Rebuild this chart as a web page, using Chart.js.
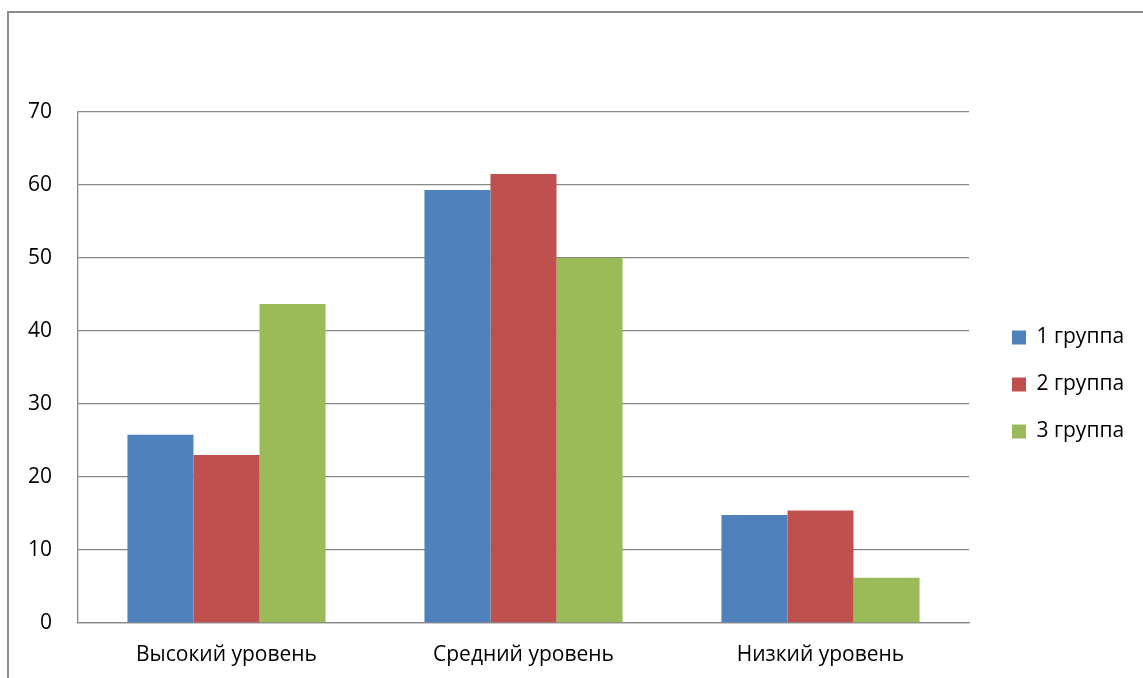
<!DOCTYPE html>
<html lang="ru">
<head>
<meta charset="utf-8">
<title>Уровни по группам</title>
<script src="https://cdn.jsdelivr.net/npm/chart.js@4/dist/chart.umd.min.js"></script>
<style>
  html, body { margin: 0; padding: 0; background: #fff; }
  #wrap { position: relative; width: 1143px; height: 678px; overflow: hidden; }
  #frame {
    position: absolute; left: 7px; top: 11px; right: -10px; bottom: -10px;
    border-left: 2px solid #8c8c8c; border-top: 2px solid #8c8c8c;
    pointer-events: none;
  }
  canvas { position: absolute; left: 0; top: 0; }
</style>
</head>
<body>
<div id="wrap">
  <canvas id="chart" width="1143" height="678"></canvas>
  <div id="frame"></div>
</div>
<script>
// Категории и значения по группам
const categories = ['Высокий уровень', 'Средний уровень', 'Низкий уровень'];
const group1 = [25.8, 59.3, 14.8];
const group2 = [23.0, 61.5, 15.4];
const group3 = [43.7, 50.0, 6.2];
const seriesNames = ['1 группа', '2 группа', '3 группа'];
const seriesColors = ['#4F81BD', '#C0504D', '#9BBB59'];
const yMax = 70;
const yStep = 10;

const FONT_FAMILY = '"Open Sans", "Liberation Sans", sans-serif';
const FONT = { family: FONT_FAMILY, size: 21 };
const GRID = '#878787';

// Layout geometry (canvas pixels)
const W = 1143;
const PLOT_LEFT = 78;
const PLOT_RIGHT = 969;
const PLOT_TOP = 112;
const LEGEND_GAP = 17;
const LEGEND_BOX = 14;
const LEGEND_PAD = 26;
const LEGEND_FIT_EXTRA = 10; // Chart.js adds this to a vertical legend's width

// Width the legend will take, so the plot keeps its right edge
const mctx = document.createElement('canvas').getContext('2d');
mctx.font = FONT.size + 'px ' + FONT_FAMILY;
const maxText = Math.max(...seriesNames.map(t => mctx.measureText(t).width));
const legendWidth = LEGEND_PAD + LEGEND_BOX + FONT.size / 2 + maxText + LEGEND_FIT_EXTRA;
const rightPad = Math.max(0, W - PLOT_RIGHT - LEGEND_GAP - legendWidth);

const seriesValues = [group1, group2, group3];

new Chart(document.getElementById('chart'), {
  type: 'bar',
  data: {
    labels: categories,
    datasets: seriesValues.map((vals, i) => ({
      label: seriesNames[i],
      data: vals,
      backgroundColor: seriesColors[i],
      borderWidth: 0,
      categoryPercentage: 0.667,
      barPercentage: 1.0,
      yAxisID: 'y'
    }))
  },
  options: {
    responsive: false,
    animation: false,
    layout: { padding: { left: 0, top: PLOT_TOP, right: rightPad, bottom: 0 } },
    plugins: {
      tooltip: { enabled: false },
      legend: {
        position: 'right',
        align: 'center',
        fullSize: false,
        title: { display: true, text: ' ', font: { size: 10, lineHeight: 1.2 }, padding: 11 },
        labels: {
          font: FONT,
          color: '#000',
          boxWidth: LEGEND_BOX,
          boxHeight: LEGEND_BOX,
          padding: LEGEND_PAD
        }
      }
    },
    scales: {
      x: {
        grid: { display: false, drawTicks: false },
        border: { display: true, color: GRID, width: 1.3 },
        ticks: { font: FONT, color: '#000', padding: 19, maxRotation: 0 },
        afterFit(s) { s.height = 55; }
      },
      y: {
        min: 0,
        max: yMax,
        grid: { color: GRID, lineWidth: 1.3, drawTicks: false },
        border: { display: true, color: GRID, width: 1.3 },
        ticks: { stepSize: yStep, font: FONT, color: '#000', padding: 26 },
        afterFit(s) { s.width = PLOT_LEFT; }
      },
      gap: {
        type: 'linear',
        position: 'right',
        display: true,
        grid: { display: false, drawTicks: false },
        border: { display: false },
        ticks: { display: false },
        afterFit(s) { s.width = LEGEND_GAP; }
      }
    }
  }
});
</script>
</body>
</html>
